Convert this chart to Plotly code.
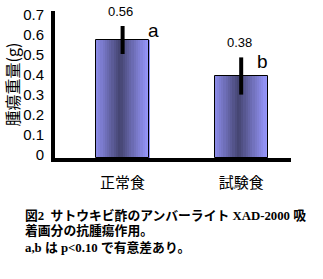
import plotly.graph_objects as go

categories = ["正常食", "試験食"]
bar_values = [0.59, 0.41]
error_values = [0.07, 0.093]
value_labels = ["0.56", "0.38"]
sig_labels = ["a", "b"]
y_ticks = [0, 0.1, 0.2, 0.3, 0.4, 0.5, 0.6, 0.7]
y_title = "腫瘍重量(g)"
caption_lines = ["図2  サトウキビ酢のアンバーライト XAD-2000 吸",
                 "着画分の抗腫瘍作用。",
                 "a,b は p<0.10 で有意差あり。"]

W, H = 323, 279
ml, mr, mt, mb = 55, 32, 11, 121
PW, PH = W - ml - mr, H - mt - mb
BW = 0.45

def lerp(c1, c2, t):
    return "rgb(%d,%d,%d)" % tuple(round(a + (b - a) * t) for a, b in zip(c1, c2))

light = (153, 153, 255)
dark = (68, 68, 112)
N = 24
fig = go.Figure()
for i in range(N):
    frac = (i + 0.5) / N
    d = abs(frac - 0.45) / 0.55
    t = max(0.0, min(1.0, 1 - d)) ** 1.1
    col = lerp(light, dark, t)
    fig.add_trace(go.Bar(x=categories, y=bar_values, width=BW / N + 0.002,
                         offset=-BW / 2 + i * BW / N,
                         marker=dict(color=col, line=dict(width=0)),
                         hoverinfo="skip", showlegend=False))
# outline + error bars
fig.add_trace(go.Bar(x=categories, y=bar_values, width=BW, offset=-BW / 2,
                     marker=dict(color="rgba(0,0,0,0)", line=dict(color="black", width=1)),
                     error_y=dict(type="data", array=error_values, arrayminus=error_values,
                                  color="black", thickness=4, width=0),
                     showlegend=False))

for i, c in enumerate(categories):
    fig.add_annotation(x=c, xshift=-2, y=bar_values[i] + error_values[i], yshift=15,
                       text=value_labels[i], showarrow=False,
                       xanchor="center", yanchor="middle",
                       font=dict(family="Liberation Sans, Arial", size=13, color="black"))
    fig.add_annotation(x=c, xshift=31 if i == 0 else 21,
                       y=bar_values[i] + error_values[i], yshift=-4,
                       text=sig_labels[i], showarrow=False,
                       xanchor="center", yanchor="middle",
                       font=dict(family="Liberation Sans, Arial", size=19, color="black"))

for j, line in enumerate(caption_lines):
    ypix = 215 + 16 * j
    fig.add_annotation(xref="paper", yref="paper", x=(24 - ml) / PW,
                       y=(H - mb - ypix) / PH, xanchor="left", yanchor="middle",
                       borderpad=0,
                       text="<b>" + line + "</b>", showarrow=False,
                       font=dict(family="Liberation Serif, Noto Sans CJK JP", size=12.8, color="black"))

fig.update_layout(
    width=W, height=H, margin=dict(l=ml, r=mr, t=mt, b=mb),
    paper_bgcolor="white", plot_bgcolor="white", barmode="overlay", bargap=0,
    showlegend=False,
    xaxis=dict(range=[-0.57, 1.42], showline=True, linecolor="black", linewidth=4,
               showgrid=False, zeroline=False, ticks="outside", ticklen=8, tickcolor="rgba(0,0,0,0)",
               tickfont=dict(family="Noto Sans CJK JP", size=15, color="black")),
    yaxis=dict(range=[0, 0.735], tickvals=y_ticks, ticktext=[("%g" % v) for v in y_ticks],
               showline=True, linecolor="black", linewidth=4, showgrid=False, zeroline=False,
               ticks="outside", ticklen=4, tickcolor="rgba(0,0,0,0)", ticklabelshift=-3,
               automargin=False,
               title=dict(text=y_title, standoff=0,
                          font=dict(family="Noto Sans CJK JP", size=16, color="black")),
               tickfont=dict(family="Liberation Sans, Arial", size=15, color="black")),
)
fig.write_html("out.html")
